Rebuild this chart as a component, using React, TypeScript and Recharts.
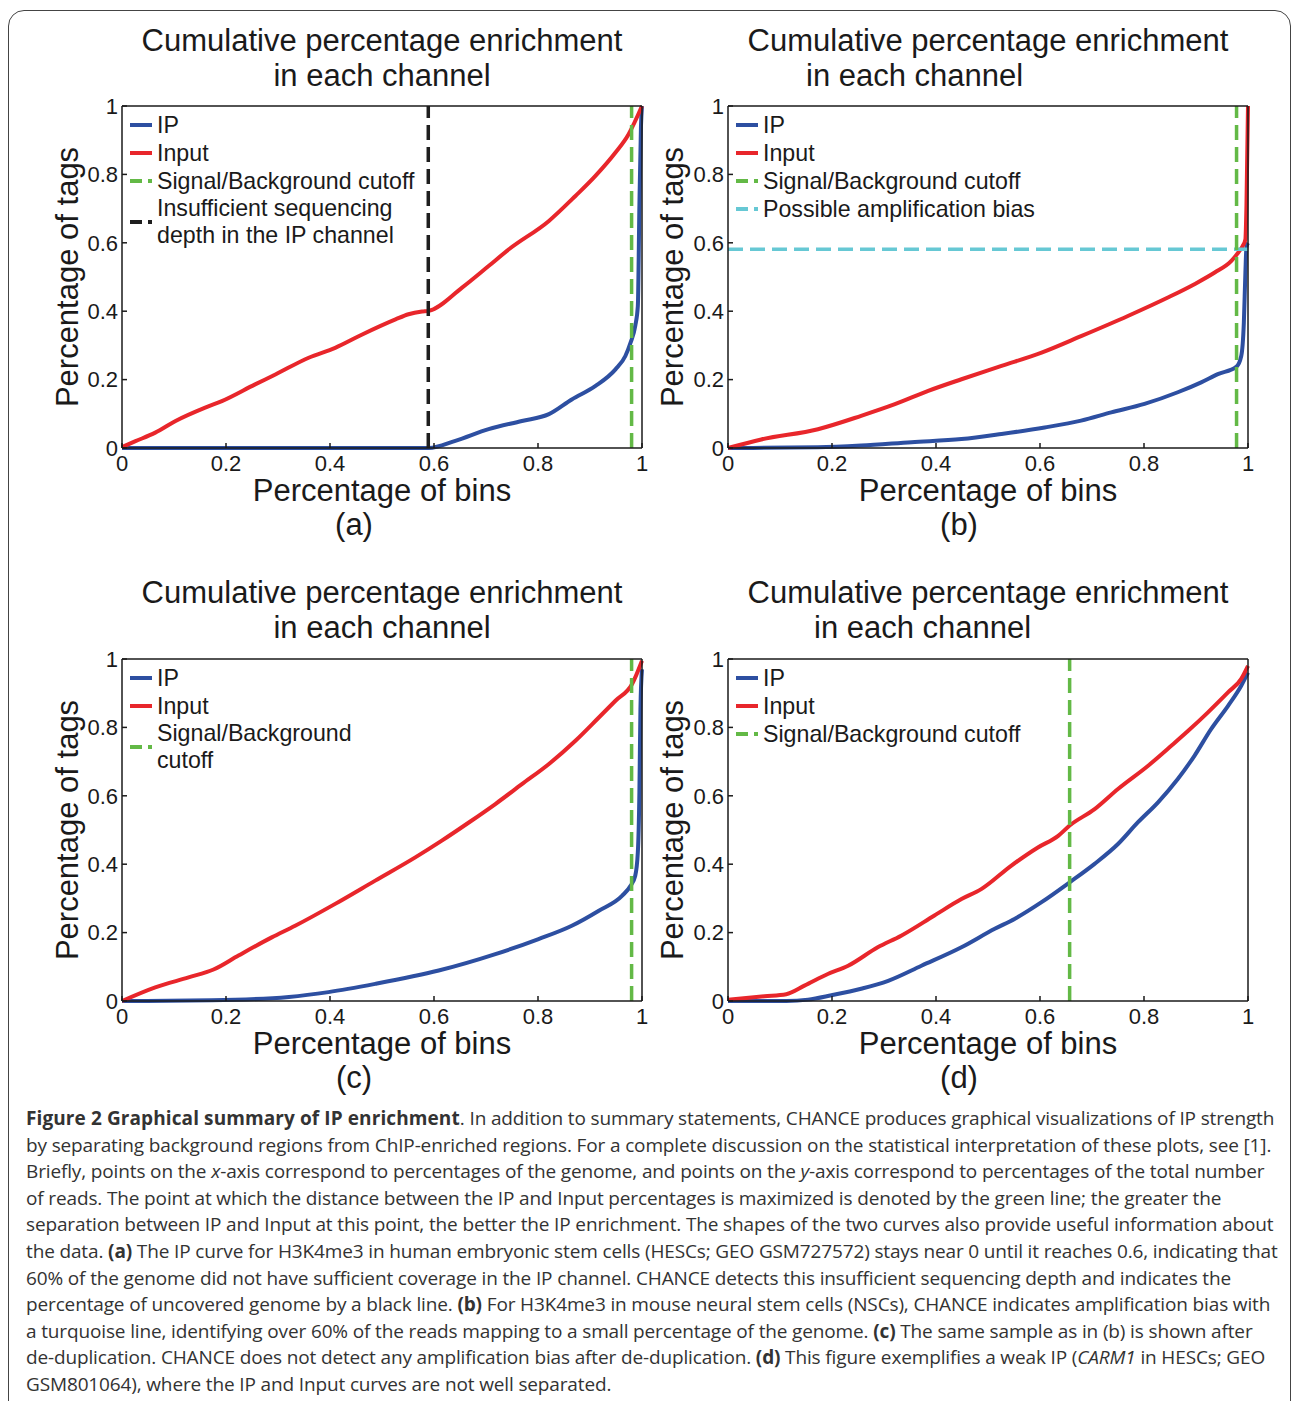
import React from "react";
import { LineChart, Line, XAxis, YAxis, ReferenceLine, Legend } from "recharts";

const BLUE = "#2d4fa1";
const RED = "#e8262b";
const GREEN = "#63b946";
const CYAN = "#66c8d4";
const BLACK = "#1e1e1e";
const INK = "#1a1a1a";

const FIG_FONT = "'Liberation Sans', Arial, Helvetica, sans-serif";
const CAPTION_FONT = "'Open Sans', 'Noto Sans', sans-serif";

type Pt = [number, number];

const axisTicks = [0, 0.2, 0.4, 0.6, 0.8, 1];
const tickLabels = ["0", "0.2", "0.4", "0.6", "0.8", "1"];

// (a) H3K4me3 HESCs, shallow IP
const ipA: Pt[] = [
  [0, 0], [0.3, 0], [0.59, 0], [0.641, 0.021], [0.705, 0.055], [0.769, 0.079], [0.821, 0.099],
  [0.865, 0.142], [0.91, 0.181], [0.949, 0.23], [0.968, 0.269], [0.978, 0.308], [0.987, 0.357],
  [0.992, 0.415], [0.995, 0.708], [0.998, 0.94], [1, 1],
];
const inputA: Pt[] = [
  [0, 0.003], [0.026, 0.02], [0.064, 0.045], [0.103, 0.079], [0.16, 0.118], [0.192, 0.137],
  [0.256, 0.186], [0.295, 0.215], [0.359, 0.264], [0.41, 0.293], [0.462, 0.332], [0.526, 0.376],
  [0.551, 0.391], [0.577, 0.399], [0.59, 0.401], [0.654, 0.469], [0.705, 0.532], [0.744, 0.581],
  [0.821, 0.664], [0.872, 0.737], [0.91, 0.795], [0.949, 0.864], [0.974, 0.917], [1, 1],
];

// (b) H3K4me3 NSCs, amplification bias
const ipB: Pt[] = [
  [0, 0], [0.173, 0.002], [0.256, 0.007], [0.353, 0.017], [0.449, 0.026], [0.526, 0.041],
  [0.609, 0.06], [0.679, 0.08], [0.737, 0.104], [0.801, 0.129], [0.865, 0.163], [0.91, 0.192],
  [0.942, 0.216], [0.978, 0.238], [0.987, 0.269], [0.992, 0.366], [0.995, 0.513], [0.997, 0.587],
  [1, 0.6],
];
const inputB: Pt[] = [
  [0, 0], [0.064, 0.025], [0.173, 0.055], [0.256, 0.094], [0.321, 0.128], [0.385, 0.167],
  [0.449, 0.201], [0.526, 0.24], [0.603, 0.279], [0.679, 0.327], [0.769, 0.386], [0.846, 0.44],
  [0.897, 0.479], [0.936, 0.513], [0.968, 0.547], [0.981, 0.571], [0.99, 0.591], [0.995, 0.61],
  [0.997, 0.708], [1, 1],
];

// (c) same sample after de-duplication
const ipC: Pt[] = [
  [0, 0], [0.173, 0.002], [0.321, 0.012], [0.397, 0.026], [0.487, 0.05], [0.609, 0.089],
  [0.718, 0.137], [0.801, 0.181], [0.865, 0.22], [0.917, 0.264], [0.962, 0.308], [0.978, 0.337],
  [0.987, 0.366], [0.992, 0.435], [0.995, 0.61], [0.997, 0.854], [1, 0.97],
];
const inputC: Pt[] = [
  [0, 0], [0.064, 0.04], [0.128, 0.069], [0.176, 0.092], [0.224, 0.133], [0.288, 0.186],
  [0.333, 0.22], [0.41, 0.284], [0.487, 0.352], [0.564, 0.42], [0.615, 0.469], [0.667, 0.522],
  [0.718, 0.576], [0.769, 0.634], [0.821, 0.693], [0.872, 0.761], [0.917, 0.829], [0.949, 0.878],
  [0.981, 0.927], [1, 0.995],
];

// (d) weak IP, CARM1
const ipD: Pt[] = [
  [0, 0], [0.112, 0], [0.154, 0.004], [0.199, 0.017], [0.256, 0.036], [0.308, 0.059],
  [0.372, 0.103], [0.449, 0.157], [0.513, 0.211], [0.551, 0.24], [0.603, 0.289], [0.657, 0.347],
  [0.705, 0.401], [0.75, 0.459], [0.788, 0.522], [0.827, 0.581], [0.865, 0.649], [0.897, 0.717],
  [0.929, 0.795], [0.962, 0.864], [0.987, 0.922], [1, 0.96],
];
const inputD: Pt[] = [
  [0, 0.004], [0.07, 0.014], [0.112, 0.02], [0.147, 0.045], [0.192, 0.079], [0.231, 0.103],
  [0.288, 0.157], [0.333, 0.191], [0.397, 0.25], [0.449, 0.298], [0.487, 0.327], [0.545, 0.396],
  [0.596, 0.449], [0.635, 0.483], [0.657, 0.513], [0.705, 0.561], [0.75, 0.62], [0.808, 0.688],
  [0.853, 0.747], [0.885, 0.79], [0.923, 0.844], [0.962, 0.903], [0.987, 0.942], [1, 0.98],
];

const cutoffs = { a: 0.98, b: 0.978, c: 0.98, d: 0.657 };
const insufficientDepthA = 0.589;
const amplificationBiasB = 0.581;

interface LegendEntry {
  label: string[];
  color: string;
  dashed?: boolean;
}

const legendBase: LegendEntry[] = [
  { label: ["IP"], color: BLUE },
  { label: ["Input"], color: RED },
];
const legendA: LegendEntry[] = [
  ...legendBase,
  { label: ["Signal/Background cutoff"], color: GREEN, dashed: true },
  { label: ["Insufficient sequencing", "depth in the IP channel"], color: BLACK, dashed: true },
];
const legendB: LegendEntry[] = [
  ...legendBase,
  { label: ["Signal/Background cutoff"], color: GREEN, dashed: true },
  { label: ["Possible amplification bias"], color: CYAN, dashed: true },
];
const legendC: LegendEntry[] = [
  ...legendBase,
  { label: ["Signal/Background", "cutoff"], color: GREEN, dashed: true },
];
const legendD: LegendEntry[] = [
  ...legendBase,
  { label: ["Signal/Background cutoff"], color: GREEN, dashed: true },
];

const toData = (pts: Pt[]) => pts.map(([x, y]) => ({ x, y }));

interface PanelSpec {
  tag: string;
  plotLeft: number;
  plotTop: number;
  plotRight: number;
  plotBottom: number;
  yLabelX: number;
  titleY: number;
  titleX: number;
  title2Left?: number;
  tagX: number;
  ip: Pt[];
  input: Pt[];
  cutoff: number;
  vline?: number;
  hline?: number;
  legend: LegendEntry[];
}

const panels: PanelSpec[] = [
  { tag: "(a)", plotLeft: 122, plotTop: 106, plotRight: 642, plotBottom: 448, yLabelX: 67, titleY: 40, titleX: 382, tagX: 354, ip: ipA, input: inputA, cutoff: cutoffs.a, vline: insufficientDepthA, legend: legendA },
  { tag: "(b)", plotLeft: 728, plotTop: 106, plotRight: 1248, plotBottom: 448, yLabelX: 672, titleY: 40, titleX: 988, title2Left: 806, tagX: 959, ip: ipB, input: inputB, cutoff: cutoffs.b, hline: amplificationBiasB, legend: legendB },
  { tag: "(c)", plotLeft: 122, plotTop: 659, plotRight: 642, plotBottom: 1001, yLabelX: 67, titleY: 592, titleX: 382, tagX: 354, ip: ipC, input: inputC, cutoff: cutoffs.c, legend: legendC },
  { tag: "(d)", plotLeft: 728, plotTop: 659, plotRight: 1248, plotBottom: 1001, yLabelX: 672, titleY: 592, titleX: 988, title2Left: 814, tagX: 959, ip: ipD, input: inputD, cutoff: cutoffs.d, legend: legendD },
];

function LegendBox({ entries }: { entries: LegendEntry[] }) {
  return (
    <div style={{ fontFamily: FIG_FONT, fontSize: 23.2, color: INK, whiteSpace: "nowrap" }}>
      {entries.map((e) => (
        <div key={e.label[0]} style={{ display: "flex", alignItems: "center" }}>
          <svg width={22} height={6} style={{ marginRight: 5, flex: "none" }}>
            <line x1={0} x2={22} y1={3} y2={3} stroke={e.color} strokeWidth={4} strokeDasharray={e.dashed ? "12 6" : undefined} />
          </svg>
          <div>
            {e.label.map((l) => (
              <div key={l} style={{ lineHeight: e.label.length > 1 ? "27px" : "28px" }}>{l}</div>
            ))}
          </div>
        </div>
      ))}
    </div>
  );
}

const tickFmt = (v: number) => tickLabels[axisTicks.indexOf(v)] ?? String(v);

function Panel({ p }: { p: PanelSpec }) {
  const yAxisWidth = 2 * (p.plotLeft - p.yLabelX);
  const chartLeft = p.plotLeft - yAxisWidth - 10;
  const chartTop = p.plotTop - 100;
  const chartWidth = p.plotRight - chartLeft + 20;
  const chartHeight = p.plotBottom - chartTop + 110;
  const tickStyle = { fontSize: 22, fill: INK };
  const axisStroke = { stroke: INK, strokeWidth: 1.5 };

  return (
    <div style={{ position: "absolute", left: chartLeft, top: chartTop, fontFamily: FIG_FONT }}>
      <LineChart width={chartWidth} height={chartHeight} margin={{ top: 99, right: 19, bottom: 0, left: 10 }}>
        <XAxis
          dataKey="x"
          type="number"
          domain={[0, 1]}
          ticks={axisTicks}
          tickFormatter={tickFmt}
          height={110}
          tickSize={-5}
          tickMargin={12}
          tick={tickStyle}
          axisLine={axisStroke}
          tickLine={axisStroke}
          label={{ value: "Percentage of bins", position: "insideTop", offset: 31, fontSize: 31, fill: INK }}
        />
        <XAxis xAxisId="top" orientation="top" type="number" domain={[0, 1]} ticks={axisTicks} height={1} tickSize={-5} tick={false} axisLine={axisStroke} tickLine={axisStroke} />
        <YAxis
          type="number"
          domain={[0, 1]}
          ticks={axisTicks}
          tickFormatter={tickFmt}
          width={yAxisWidth}
          tickSize={-5}
          tickMargin={9}
          tick={tickStyle}
          axisLine={axisStroke}
          tickLine={axisStroke}
          label={{ value: "Percentage of tags", angle: -90, position: "center", fontSize: 31, fill: INK }}
        />
        <YAxis yAxisId="right" orientation="right" type="number" domain={[0, 1]} ticks={axisTicks} width={1} tickSize={-5} tick={false} axisLine={axisStroke} tickLine={axisStroke} />
        <Line data={toData(p.ip)} dataKey="y" type="monotone" stroke={BLUE} strokeWidth={4} dot={false} isAnimationActive={false} name="IP" />
        <Line data={toData(p.input)} dataKey="y" type="monotone" stroke={RED} strokeWidth={4} dot={false} isAnimationActive={false} name="Input" />
        {p.hline !== undefined && (
          <ReferenceLine y={p.hline} stroke={CYAN} strokeWidth={3.5} strokeDasharray="15 7" />
        )}
        {p.vline !== undefined && (
          <ReferenceLine x={p.vline} stroke={BLACK} strokeWidth={3.5} strokeDasharray="15 7" />
        )}
        <ReferenceLine x={p.cutoff} stroke={GREEN} strokeWidth={3.5} strokeDasharray="15 7" />
        <Legend
          layout="vertical"
          align="center"
          verticalAlign="middle"
          wrapperStyle={{ left: p.plotLeft + 8 - chartLeft, top: p.plotTop + 5 - chartTop, width: "auto" }}
          content={() => <LegendBox entries={p.legend} />}
        />
      </LineChart>
    </div>
  );
}

function TextAt({ x, y, children, size, left }: { x: number; y: number; children: React.ReactNode; size: number; left?: boolean }) {
  return (
    <div
      style={{
        position: "absolute",
        left: x,
        top: y,
        transform: left ? "translateY(-50%)" : "translate(-50%, -50%)",
        fontSize: size,
        lineHeight: 1,
        whiteSpace: "nowrap",
        fontFamily: FIG_FONT,
        color: INK,
      }}
    >
      {children}
    </div>
  );
}

const captionLines: React.ReactNode[] = [
  <><b style={{ letterSpacing: 0.1 }}>Figure 2 Graphical summary of IP enrichment</b>. In addition to summary statements, CHANCE produces graphical visualizations of IP strength</>,
  <>by separating background regions from ChIP-enriched regions. For a complete discussion on the statistical interpretation of these plots, see [1].</>,
  <>Briefly, points on the <i>x</i>-axis correspond to percentages of the genome, and points on the <i>y</i>-axis correspond to percentages of the total number</>,
  <>of reads. The point at which the distance between the IP and Input percentages is maximized is denoted by the green line; the greater the</>,
  <>separation between IP and Input at this point, the better the IP enrichment. The shapes of the two curves also provide useful information about</>,
  <>the data. <b>(a)</b> The IP curve for H3K4me3 in human embryonic stem cells (HESCs; GEO GSM727572) stays near 0 until it reaches 0.6, indicating that</>,
  <>60% of the genome did not have sufficient coverage in the IP channel. CHANCE detects this insufficient sequencing depth and indicates the</>,
  <>percentage of uncovered genome by a black line. <b>(b)</b> For H3K4me3 in mouse neural stem cells (NSCs), CHANCE indicates amplification bias with</>,
  <>a turquoise line, identifying over 60% of the reads mapping to a small percentage of the genome. <b>(c)</b> The same sample as in (b) is shown after</>,
  <>de-duplication. CHANCE does not detect any amplification bias after de-duplication. <b>(d)</b> This figure exemplifies a weak IP (<i>CARM1</i> in HESCs; GEO</>,
  <>GSM801064), where the IP and Input curves are not well separated.</>,
];

export default function App() {
  return (
    <div style={{ position: "absolute", left: 0, top: 0, width: 1293, height: 1401, overflow: "hidden", background: "#fff" }}>
      <div
        style={{
          position: "absolute",
          left: 8,
          top: 10,
          width: 1283,
          height: 1420,
          border: "1.5px solid #444",
          borderRadius: 16,
          boxSizing: "border-box",
        }}
      />
      {panels.map((p) => (
        <React.Fragment key={p.tag}>
          <Panel p={p} />
          <TextAt x={p.titleX} y={p.titleY} size={31}>Cumulative percentage enrichment</TextAt>
          {p.title2Left !== undefined ? (
            <TextAt x={p.title2Left} y={p.titleY + 35} size={31} left>in each channel</TextAt>
          ) : (
            <TextAt x={p.titleX} y={p.titleY + 35} size={31}>in each channel</TextAt>
          )}
          <TextAt x={p.tagX} y={p.plotBottom + 76} size={31}>{p.tag}</TextAt>
        </React.Fragment>
      ))}
      <div
        style={{
          position: "absolute",
          left: 26,
          top: 1105,
          fontFamily: CAPTION_FONT,
          fontSize: 19,
          letterSpacing: -0.14,
          lineHeight: "26.6px",
          color: "#333",
          whiteSpace: "nowrap",
        }}
      >
        {captionLines.map((l, i) => (
          <div key={i}>{l}</div>
        ))}
      </div>
    </div>
  );
}
